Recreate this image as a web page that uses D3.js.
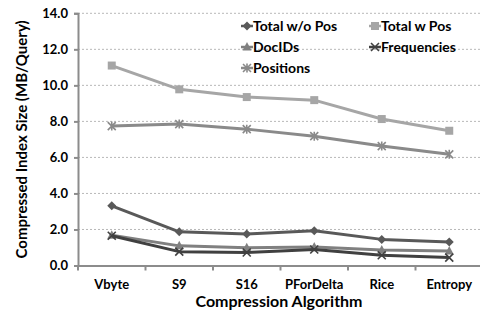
<!DOCTYPE html>
<html>
<head>
<meta charset="utf-8">
<script src="https://cdn.jsdelivr.net/npm/d3@7"></script>
<style>
  body { margin: 0; background: #fff; }
  text { font-family: Lato, "Open Sans", sans-serif; font-weight: bold; fill: #000; }
</style>
</head>
<body>
<svg id="chart" width="480" height="312"></svg>
<script>
// Categories and values
const algorithms = ["Vbyte", "S9", "S16", "PForDelta", "Rice", "Entropy"];
const totalWoPos = [3.31, 1.87, 1.75, 1.93, 1.45, 1.30];
const totalWPos = [11.1, 9.78, 9.35, 9.18, 8.13, 7.48];
const docIDs = [1.68, 1.09, 0.98, 1.03, 0.86, 0.80];
const frequencies = [1.65, 0.77, 0.72, 0.89, 0.57, 0.44];
const positions = [7.74, 7.85, 7.57, 7.18, 6.63, 6.17];
const yTicks = [0, 2, 4, 6, 8, 10, 12, 14];

const series = [
    { name: "Total w/o Pos", values: totalWoPos, color: "#595959", marker: "diamond" },
    { name: "Total w Pos", values: totalWPos, color: "#a6a6a6", marker: "square" },
    { name: "DocIDs", values: docIDs, color: "#808080", marker: "triangle" },
    { name: "Frequencies", values: frequencies, color: "#404040", marker: "x" },
    { name: "Positions", values: positions, color: "#8a8a8a", marker: "star" }
];

const svg = d3.select("#chart");

// plot area
const plotLeft = 78, plotRight = 483, plotTop = 13.3, plotBottom = 265.5;

const x = d3.scaleBand().domain(algorithms).range([plotLeft, plotRight]);
const y = d3.scaleLinear().domain([0, 14]).range([plotBottom, plotTop]);

// gridlines
svg.append("g")
    .selectAll("line")
    .data(yTicks.filter(d => d > 0))
    .enter()
    .append("line")
    .attr("x1", plotLeft)
    .attr("x2", 480)
    .attr("y1", d => y(d))
    .attr("y2", d => y(d))
    .attr("stroke", "#b8b8b8")
    .attr("stroke-width", 1)
    .attr("stroke-dasharray", "2,2");

// y axis
const yAxis = svg.append("g")
    .attr("transform", "translate(" + plotLeft + ",0)")
    .call(d3.axisLeft(y).tickValues(yTicks).tickFormat(d3.format(".1f")).tickSize(4).tickPadding(6));
yAxis.select(".domain").attr("stroke", "#8c8c8c").attr("stroke-width", 2);
yAxis.selectAll(".tick line").attr("stroke", "#8c8c8c").attr("stroke-width", 2);
yAxis.selectAll("text").style("font-size", "13px");

// x axis
const xAxis = svg.append("g")
    .attr("transform", "translate(0," + plotBottom + ")")
    .call(d3.axisBottom(x).tickSize(0).tickPadding(14));
xAxis.select(".domain").attr("stroke", "#8c8c8c").attr("stroke-width", 2);
xAxis.selectAll("text").style("font-size", "13px");

// tick marks at band boundaries
svg.append("g")
    .selectAll("line")
    .data(algorithms)
    .enter()
    .append("line")
    .attr("x1", d => x(d))
    .attr("x2", d => x(d))
    .attr("y1", plotBottom)
    .attr("y2", plotBottom + 5)
    .attr("stroke", "#8c8c8c")
    .attr("stroke-width", 2);

// axis titles
svg.append("text")
    .attr("x", 279)
    .attr("y", 307)
    .style("text-anchor", "middle")
    .style("font-size", "16px")
    .text("Compression Algorithm");

svg.append("text")
    .attr("transform", "rotate(-90)")
    .attr("x", -(plotTop + plotBottom) / 2)
    .attr("y", 27)
    .style("text-anchor", "middle")
    .style("font-size", "15px")
    .text("Compressed Index Size (MB/Query)");

// marker shapes
function drawMarker(g, type, color) {
    if (type === "diamond") {
        g.append("path").attr("d", "M0,-4.5L4.5,0L0,4.5L-4.5,0Z").attr("fill", color);
    } else if (type === "square") {
        g.append("rect").attr("x", -4).attr("y", -4).attr("width", 8).attr("height", 8).attr("fill", color);
    } else if (type === "triangle") {
        g.append("path").attr("d", "M0,-5L4.5,3.5L-4.5,3.5Z").attr("fill", color);
    } else if (type === "x") {
        g.append("path").attr("d", "M-4,-4L4,4M-4,4L4,-4").attr("stroke", color).attr("stroke-width", 1.6);
    } else {
        g.append("path").attr("d", "M-4,-4L4,4M-4,4L4,-4M0,-4.5L0,4.5").attr("stroke", color).attr("stroke-width", 1.6);
    }
}

const line = d3.line()
    .x((d, i) => x(algorithms[i]) + x.bandwidth() / 2)
    .y(d => y(d));

// draw order: lighter lines first
const order = ["Total w Pos", "Positions", "DocIDs", "Total w/o Pos", "Frequencies"];
order.forEach(function (name) {
    const s = series.find(d => d.name === name);
    const g = svg.append("g");
    g.append("path")
        .attr("d", line(s.values))
        .attr("fill", "none")
        .attr("stroke", s.color)
        .attr("stroke-width", 3)
        .attr("stroke-linejoin", "round");
    g.selectAll("g")
        .data(s.values)
        .enter()
        .append("g")
        .attr("transform", (d, i) => "translate(" + (x(algorithms[i]) + x.bandwidth() / 2) + "," + y(d) + ")")
        .each(function () { drawMarker(d3.select(this), s.marker, s.color); });
});

// legend
const legendPos = [
    [243, 26], [371, 26],
    [243, 47], [371, 47],
    [243, 68]
];
series.forEach(function (s, i) {
    const g = svg.append("g")
        .attr("transform", "translate(" + legendPos[i][0] + "," + legendPos[i][1] + ")");
    g.append("line")
        .attr("x1", -2).attr("x2", 10)
        .attr("stroke", s.color).attr("stroke-width", 2.5);
    const m = g.append("g").attr("transform", "translate(4,0)");
    drawMarker(m, s.marker, s.color);
    g.append("text")
        .attr("x", 10)
        .attr("y", 5)
        .style("font-size", "14px")
        .text(s.name);
});
</script>
</body>
</html>
